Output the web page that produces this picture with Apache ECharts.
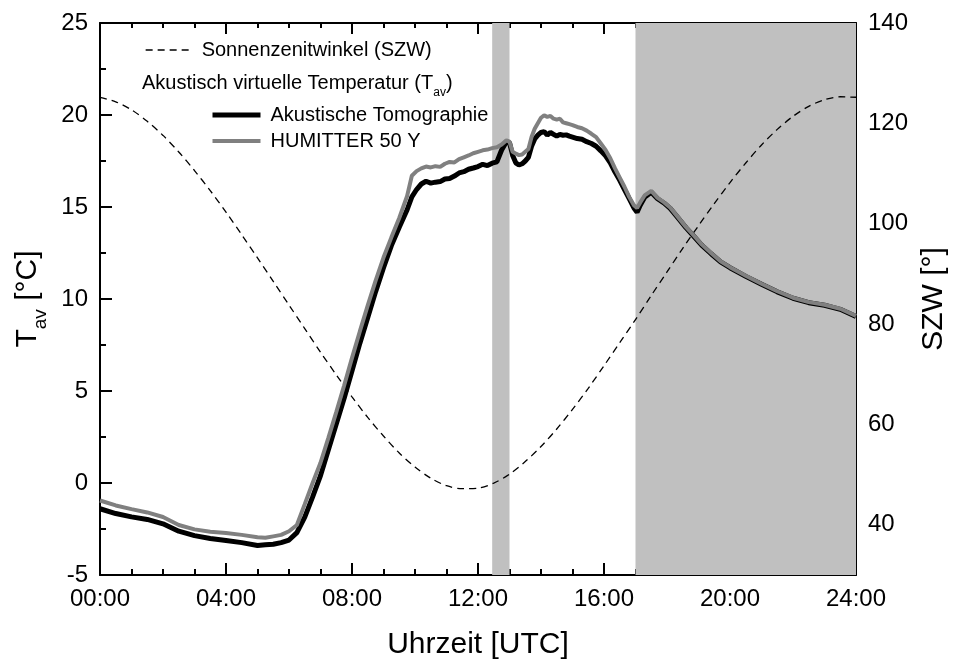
<!DOCTYPE html>
<html>
<head>
<meta charset="utf-8">
<script src="https://cdn.jsdelivr.net/npm/echarts@6/dist/echarts.min.js"></script>
<style>
  html, body { margin: 0; padding: 0; background: #fff; }
  #chart { width: 956px; height: 662px; }
</style>
</head>
<body>
<div id="chart"></div>
<script>
// Time of day in hours (UTC) for the two temperature records
const hours = [
  0, 0.5, 1, 1.5, 2, 2.5, 3, 3.5, 4, 4.5,
  5, 5.25, 5.5, 5.75, 6, 6.25, 6.5, 6.75, 7, 7.25,
  7.5, 7.75, 8, 8.25, 8.5, 8.75, 9, 9.25, 9.5, 9.75,
  9.9, 10.05, 10.2, 10.35, 10.5, 10.65, 10.8, 10.95, 11.1, 11.25,
  11.4, 11.55, 11.7, 11.85, 12.0, 12.15, 12.3, 12.45, 12.6, 12.75,
  12.9, 13.0, 13.1, 13.2, 13.3, 13.4, 13.5, 13.6, 13.7, 13.8,
  13.9, 14.0, 14.1, 14.2, 14.3, 14.4, 14.5, 14.6, 14.7, 14.8,
  14.9, 15.0, 15.15, 15.3, 15.45, 15.6, 15.75, 15.9, 16.05, 16.2,
  16.35, 16.5, 16.65, 16.8, 16.95, 17.05, 17.15, 17.3, 17.5, 17.7,
  17.9, 18.1, 18.35, 18.6, 18.85, 19.1, 19.4, 19.7, 20.0, 20.5,
  21.0, 21.5, 22.0, 22.5, 23.0, 23.5, 24.0
];

// Acoustic virtual temperature from acoustic tomography [°C]
const tomographie = [
  -1.40, -1.66, -1.84, -1.98, -2.22, -2.62, -2.86, -3.02, -3.12, -3.24,
  -3.40, -3.36, -3.33, -3.24, -3.10, -2.70, -1.85, -0.75, 0.40, 1.80,
  3.20, 4.60, 6.10, 7.60, 9.00, 10.40, 11.70, 12.90, 13.90, 14.85,
  15.55, 15.95, 16.25, 16.40, 16.30, 16.35, 16.38, 16.52, 16.55, 16.68,
  16.85, 16.92, 17.05, 17.12, 17.20, 17.32, 17.25, 17.38, 17.45, 18.10,
  18.55, 18.50, 17.80, 17.40, 17.28, 17.35, 17.50, 17.70, 18.30, 18.70,
  18.90, 19.05, 19.10, 18.90, 19.05, 18.95, 18.85, 18.95, 18.90, 18.92,
  18.85, 18.80, 18.72, 18.68, 18.55, 18.45, 18.30, 18.05, 17.78, 17.40,
  16.90, 16.45, 15.95, 15.45, 14.95, 14.72, 15.10, 15.55, 15.80, 15.45,
  15.22, 14.93, 14.41, 13.88, 13.41, 12.93, 12.46, 12.02, 11.70, 11.23,
  10.80, 10.39, 10.04, 9.80, 9.66, 9.44, 9.05
];

// Acoustic virtual temperature from the HUMITTER 50 Y sensor [°C]
const humitter = [
  -0.95, -1.22, -1.42, -1.60, -1.85, -2.28, -2.52, -2.65, -2.72, -2.82,
  -2.95, -2.98, -2.90, -2.82, -2.62, -2.28, -1.15, 0.00, 1.10, 2.45,
  3.85, 5.30, 6.80, 8.25, 9.65, 11.00, 12.25, 13.35, 14.40, 15.60,
  16.70, 16.95, 17.10, 17.20, 17.15, 17.22, 17.18, 17.35, 17.45, 17.42,
  17.60, 17.70, 17.80, 17.92, 18.00, 18.08, 18.12, 18.20, 18.25, 18.40,
  18.62, 18.55, 18.00, 17.90, 17.82, 17.85, 18.00, 18.15, 18.80, 19.25,
  19.55, 19.85, 19.98, 19.90, 19.95, 19.80, 19.75, 19.80, 19.60, 19.55,
  19.50, 19.45, 19.35, 19.28, 19.15, 18.98, 18.80, 18.45, 18.10, 17.65,
  17.10, 16.60, 16.10, 15.55, 15.10, 14.95, 15.25, 15.65, 15.88, 15.50,
  15.26, 14.97, 14.45, 13.92, 13.45, 12.97, 12.50, 12.05, 11.73, 11.26,
  10.83, 10.42, 10.07, 9.83, 9.69, 9.47, 9.08
];

// Solar zenith angle, half-hourly [°]
const szwHours = [
  0, 0.5, 1, 1.5, 2, 2.5, 3, 3.5, 4, 4.5,
  5, 5.5, 6, 6.5, 7, 7.5, 8, 8.5, 9, 9.5,
  10, 10.5, 11, 11.5, 12, 12.5, 13, 13.5, 14, 14.5,
  15, 15.5, 16, 16.5, 17, 17.5, 18, 18.5, 19, 19.5,
  20, 20.5, 21, 21.5, 22, 22.5, 23, 23.5, 24
];
const szw = [
  125.2, 124.3, 122.7, 120.4, 117.6, 114.3, 110.6, 106.6, 102.3, 97.8,
  93.2, 88.5, 83.8, 79.1, 74.4, 69.9, 65.5, 61.4, 57.7, 54.3,
  51.5, 49.3, 47.8, 47.2, 47.3, 48.3, 50.1, 52.6, 55.6, 59.1,
  63.0, 67.2, 71.7, 76.3, 80.9, 85.7, 90.4, 95.1, 99.6, 104.0,
  108.2, 112.1, 115.7, 118.8, 121.4, 123.4, 124.7, 125.3, 125.2
];

// Shaded time intervals [h]
const shadeRanges = [[12.45, 13.0], [17.0, 24.0]];

// Axis label values
const szwLabelValues = [40, 60, 80, 100, 120, 140];

const FONT = '"Liberation Sans", Arial, Helvetica, sans-serif';
const AXIS_LINE = { show: true, onZero: false, lineStyle: { color: '#000', width: 2 } };
const TICK_STYLE = { color: '#000', width: 2 };

const fmtHour = v => (v < 10 ? '0' + v : '' + v) + ':00';

const chart = echarts.init(document.getElementById('chart'), null, { renderer: 'canvas' });

const legendText = { fontSize: 20, color: '#000', fontFamily: FONT, padding: [0, 0, 0, 5] };

const option = {
  animation: false,
  backgroundColor: '#fff',
  textStyle: { fontFamily: FONT, color: '#000' },
  grid: { left: 100, right: 100, top: 23, bottom: 87, containLabel: false, outerBoundsMode: 'none' },
  xAxis: [
    {
      type: 'value', position: 'bottom', min: 0, max: 24, interval: 4,
      axisLine: AXIS_LINE,
      axisTick: { show: true, inside: true, length: 12, lineStyle: TICK_STYLE },
      minorTick: { show: true, splitNumber: 4, length: 6, lineStyle: TICK_STYLE },
      splitLine: { show: false },
      axisLabel: { formatter: fmtHour, fontSize: 24, color: '#000', fontFamily: FONT, margin: 12 },
      name: 'Uhrzeit [UTC]', nameLocation: 'middle', nameGap: 55,
      nameTextStyle: { fontSize: 30, color: '#000', fontFamily: FONT }
    },
    {
      type: 'value', position: 'top', min: 0, max: 24, interval: 4,
      axisLine: AXIS_LINE,
      axisTick: { show: true, inside: true, length: 11, lineStyle: TICK_STYLE },
      minorTick: { show: true, splitNumber: 4, length: 5, lineStyle: TICK_STYLE },
      splitLine: { show: false },
      axisLabel: { show: false }
    }
  ],
  yAxis: [
    {
      type: 'value', position: 'left', min: -5, max: 25, interval: 5,
      axisLine: AXIS_LINE,
      axisTick: { show: true, inside: true, length: 12, lineStyle: TICK_STYLE },
      minorTick: { show: true, splitNumber: 2, length: 6, lineStyle: TICK_STYLE },
      splitLine: { show: false },
      axisLabel: { fontSize: 24, color: '#000', fontFamily: FONT, margin: 12 },
      name: '{a|T}{b|av}{a| [°C]}', nameLocation: 'middle', nameGap: 52, nameRotate: 90,
      nameTextStyle: {
        rich: {
          a: { fontSize: 30, fontFamily: FONT, color: '#000', lineHeight: 34 },
          b: { fontSize: 19, fontFamily: FONT, color: '#000', verticalAlign: 'bottom', lineHeight: 19, padding: [0, 0, -6, 0] }
        }
      }
    },
    {
      type: 'value', position: 'right', min: 30, max: 140,
      axisLine: AXIS_LINE,
      axisTick: { show: true, inside: true, length: 12, lineStyle: TICK_STYLE, customValues: szwLabelValues },
      splitLine: { show: false },
      axisLabel: { fontSize: 24, color: '#000', fontFamily: FONT, margin: 12, customValues: szwLabelValues },
      name: 'SZW [°]', nameLocation: 'middle', nameGap: 62, nameRotate: 90,
      nameTextStyle: { fontSize: 30, color: '#000', fontFamily: FONT }
    },
    {
      // minor ticks of the zenith-angle axis
      type: 'value', position: 'right', min: 30, max: 140, interval: 10,
      axisLine: { show: false, onZero: false },
      axisTick: { show: true, inside: true, length: 6, lineStyle: TICK_STYLE },
      splitLine: { show: false },
      axisLabel: { show: false }
    }
  ],
  legend: [
    {
      data: [{ name: 'Sonnenzenitwinkel (SZW)', itemStyle: { opacity: 0 }, lineStyle: { color: '#000', width: 1.3, type: [7, 5] } }],
      left: 145, top: 40, padding: 0,
      itemWidth: 46, itemHeight: 14,
      selectedMode: false,
      textStyle: legendText
    },
    {
      data: [
        { name: 'Akustische Tomographie', itemStyle: { opacity: 0 }, lineStyle: { color: '#000', width: 5 } },
        { name: 'HUMITTER 50 Y', itemStyle: { opacity: 0 }, lineStyle: { color: '#808080', width: 4 } }
      ],
      orient: 'vertical',
      left: 210, top: 105, padding: 0, itemGap: 6,
      itemWidth: 48, itemHeight: 14,
      selectedMode: false,
      textStyle: legendText
    }
  ],
  graphic: [
    {
      type: 'text', left: 142, top: 73, silent: true,
      style: {
        text: '{a|Akustisch virtuelle Temperatur (T}{b|av}{a|)}',
        rich: {
          a: { fontSize: 20, fontFamily: FONT, fill: '#000', lineHeight: 24 },
          b: { fontSize: 12, fontFamily: FONT, fill: '#000', verticalAlign: 'bottom', lineHeight: 12, padding: [0, 0, -4, 0] }
        }
      }
    },
    {
      type: 'text', x: 826, y: 538, silent: true,
      style: { text: '29.03.2004', fontSize: 20, fontFamily: FONT, fill: '#000', align: 'right', verticalAlign: 'middle' }
    }
  ],
  series: [
    {
      name: 'Sonnenzenitwinkel (SZW)',
      type: 'line', xAxisIndex: 0, yAxisIndex: 1,
      data: szwHours.map((h, i) => [h, szw[i]]),
      smooth: 0.3, symbol: 'none',
      lineStyle: { color: '#000', width: 1.3, type: [7, 5] },
      itemStyle: { color: '#000' },
      markArea: {
        silent: true,
        itemStyle: { color: '#c0c0c0' },
        data: shadeRanges.map(r => [{ xAxis: r[0] }, { xAxis: r[1] }])
      },
      z: 2
    },
    {
      name: 'Akustische Tomographie',
      type: 'line', xAxisIndex: 0, yAxisIndex: 0,
      data: hours.map((h, i) => [h, tomographie[i]]),
      symbol: 'none',
      lineStyle: { color: '#000', width: 5 },
      itemStyle: { color: '#000' },
      z: 3
    },
    {
      name: 'HUMITTER 50 Y',
      type: 'line', xAxisIndex: 0, yAxisIndex: 0,
      data: hours.map((h, i) => [h, humitter[i]]),
      symbol: 'none',
      lineStyle: { color: '#808080', width: 4 },
      itemStyle: { color: '#808080' },
      z: 4
    }
  ]
};

chart.setOption(option);
</script>
</body>
</html>
